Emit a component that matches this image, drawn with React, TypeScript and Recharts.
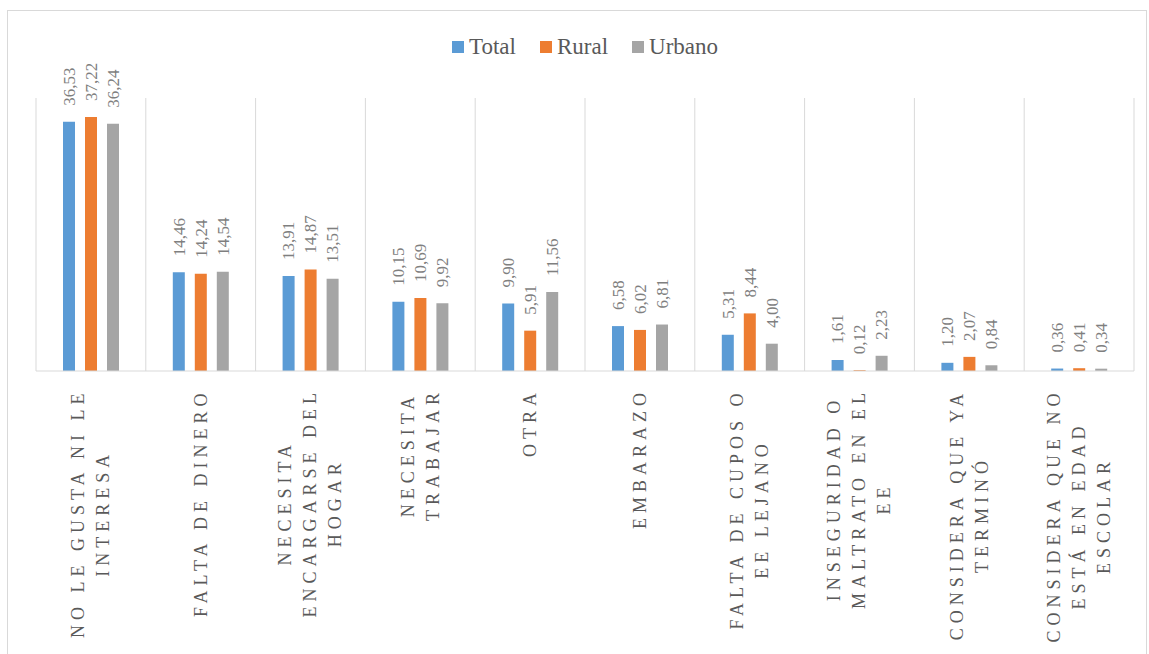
import React from 'react';
import { BarChart, Bar, XAxis, YAxis, CartesianGrid, Legend, LabelList } from 'recharts';

const categories = [
  'NO LE GUSTA NI LE\nINTERESA',
  'FALTA DE DINERO',
  'NECESITA\nENCARGARSE DEL\nHOGAR',
  'NECESITA\nTRABAJAR',
  'OTRA',
  'EMBARAZO',
  'FALTA DE CUPOS O\nEE LEJANO',
  'INSEGURIDAD O\nMALTRATO EN EL\nEE',
  'CONSIDERA QUE YA\nTERMINÓ',
  'CONSIDERA QUE NO\nESTÁ EN EDAD\nESCOLAR',
];

const total = [36.53, 14.46, 13.91, 10.15, 9.9, 6.58, 5.31, 1.61, 1.2, 0.36];
const rural = [37.22, 14.24, 14.87, 10.69, 5.91, 6.02, 8.44, 0.12, 2.07, 0.41];
const urbano = [36.24, 14.54, 13.51, 9.92, 11.56, 6.81, 4.0, 2.23, 0.84, 0.34];

const series = [
  { key: 'total', name: 'Total', color: '#5b9bd5' },
  { key: 'rural', name: 'Rural', color: '#ed7d31' },
  { key: 'urbano', name: 'Urbano', color: '#a5a5a5' },
];

const FONT = "'Liberation Serif', serif";
const CAT_SIZE = 18;
const CAT_SPACING = 5;

const chartData = categories.map((name, i) => ({
  name,
  total: total[i],
  rural: rural[i],
  urbano: urbano[i],
}));

let measureCtx: CanvasRenderingContext2D | null = null;
function textLength(s: string) {
  if (!measureCtx) {
    measureCtx = document.createElement('canvas').getContext('2d');
  }
  if (!measureCtx) return s.length * CAT_SIZE * 0.65;
  measureCtx.font = `${CAT_SIZE}px 'Liberation Serif'`;
  return measureCtx.measureText(s).width + s.length * CAT_SPACING;
}

// category labels: rotated, lines centred on each other, block top-aligned under the axis
function CategoryTick(props: any) {
  const { x, y, payload } = props;
  const lines: string[] = String(payload.value).split('\n');
  const longest = Math.max(...lines.map(textLength));
  const cy = y + longest / 2;
  return (
    <g>
      {lines.map((line, i) => {
        const lx = x + (i - (lines.length - 1) / 2) * 25;
        return (
          <text
            key={i}
            x={lx}
            y={cy}
            dy="0.33em"
            transform={`rotate(-90 ${lx} ${cy})`}
            textAnchor="middle"
            style={{ fontFamily: FONT, fontSize: CAT_SIZE, letterSpacing: CAT_SPACING }}
            fill="#595959"
          >
            {line}
          </text>
        );
      })}
    </g>
  );
}

const renderValueLabel = (props: any) => {
  const { x, y, width, value } = props;
  const cx = x + width / 2;
  const ty = y - 16;
  return (
    <text
      x={cx}
      y={ty}
      dy="0.34em"
      transform={`rotate(-90 ${cx} ${ty})`}
      textAnchor="start"
      style={{ fontFamily: FONT, fontSize: 17 }}
      fill="#7f7f7f"
    >
      {Number(value).toFixed(2).replace('.', ',')}
    </text>
  );
};

const renderLegend = () => (
  <div
    style={{
      display: 'flex',
      justifyContent: 'center',
      alignItems: 'center',
      height: 30,
      fontFamily: FONT,
      fontSize: 23,
      color: '#595959',
    }}
  >
    {series.map(s => (
      <div key={s.key} style={{ display: 'flex', alignItems: 'center', margin: '0 12px' }}>
        <div style={{ width: 12, height: 12, background: s.color, marginRight: 5 }} />
        <span>{s.name}</span>
      </div>
    ))}
  </div>
);

export default function App() {
  return (
    <div style={{ position: 'absolute', left: 0, top: 0, width: 1149, height: 654, overflow: 'hidden', background: '#fff', fontFamily: FONT }}>
      <div
        style={{
          position: 'absolute',
          left: 7,
          top: 10,
          width: 1140,
          height: 700,
          border: '1px solid #d9d9d9',
          boxSizing: 'border-box',
        }}
      />
      <div style={{ position: 'absolute', left: 0, top: 0 }}>
        <BarChart
          width={1149}
          height={654}
          data={chartData}
          margin={{ top: 68, right: 15, left: 36, bottom: 0 }}
          barCategoryGap={27}
          barGap={10}
          style={{ fontFamily: FONT }}
        >
          <CartesianGrid
            horizontal={false}
            stroke="#d9d9d9"
            verticalCoordinatesGenerator={({ offset }: any) =>
              Array.from({ length: categories.length + 1 }, (_, i) => offset.left + (i * offset.width) / categories.length)
            }
          />
          <XAxis
            dataKey="name"
            interval={0}
            height={283}
            tickLine={false}
            tickSize={0}
            tickMargin={17}
            axisLine={{ stroke: '#d9d9d9' }}
            tick={<CategoryTick />}
          />
          <YAxis hide domain={[0, 40]} />
          <Legend verticalAlign="top" wrapperStyle={{ top: 32 }} content={renderLegend} />
          {series.map(s => (
            <Bar key={s.key} dataKey={s.key} name={s.name} fill={s.color} isAnimationActive={false}>
              <LabelList dataKey={s.key} content={renderValueLabel} />
            </Bar>
          ))}
        </BarChart>
      </div>
    </div>
  );
}
